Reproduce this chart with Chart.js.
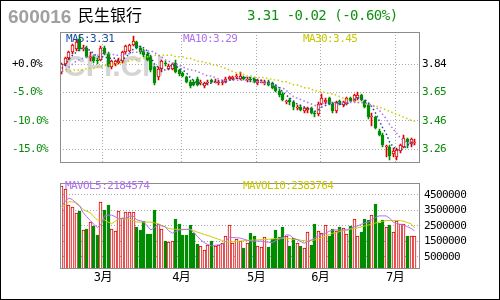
<!DOCTYPE html>
<html>
<head>
<meta charset="utf-8">
<script src="https://cdn.jsdelivr.net/npm/chart.js@4.4.0/dist/chart.umd.min.js"></script>
<style>
body{margin:0;background:#fff;}
#wrap{position:relative;width:500px;height:300px;overflow:hidden;background:#fff;}
#frame{position:absolute;left:0;top:0;width:500px;height:300px;box-sizing:border-box;border:1px solid #000;pointer-events:none;}
canvas{position:absolute;left:0;}
.t{position:absolute;white-space:nowrap;}
.leg{font:11px 'DejaVu Sans Mono',monospace;letter-spacing:-0.6px;line-height:11px;}
</style>
</head>
<body>
<div id="wrap">
<canvas id="priceChart" width="500" height="172" style="top:0"></canvas>
<canvas id="volChart" width="500" height="128" style="top:172px"></canvas>
<div class="t" style="left:8px;top:7px;font:bold 19px 'Liberation Sans',Arial,sans-serif;line-height:19px;color:#a0a0a0">600016</div>
<div class="t" style="left:78px;top:6px;font:16px 'Noto Sans CJK SC',sans-serif;line-height:16px;color:#000">民生银行</div>
<div class="t" style="left:247px;top:8px;font:14px 'DejaVu Sans Mono',monospace;letter-spacing:-0.5px;line-height:14px;color:#109010">3.31 -0.02 (-0.60%)</div>
<div class="t leg" style="left:66px;top:33px;color:#1a4e9c">MA5:3.31</div>
<div class="t leg" style="left:183px;top:33px;color:#b070f0">MA10:3.29</div>
<div class="t leg" style="left:303px;top:33px;color:#c8c800">MA30:3.45</div>
<div class="t leg" style="left:65px;top:180px;color:#b070f0">MAVOL5:2184574</div>
<div class="t leg" style="left:243px;top:180px;color:#c8c800">MAVOL10:2383764</div>
<div id="frame"></div>
</div>
<script>
// daily candles, Feb - Jul
const opens = [3.79,3.84,3.88,3.92,3.94,4.01,3.94,3.95,3.88,3.89,
  3.87,3.87,3.95,3.91,3.82,3.84,3.85,3.86,3.92,3.93,
  3.97,3.99,3.95,3.93,3.91,3.89,3.82,3.75,3.81,3.85,
  3.81,3.81,3.85,3.80,3.78,3.75,3.72,3.72,3.74,3.71,
  3.69,3.71,3.73,3.72,3.71,3.71,3.72,3.74,3.74,3.75,
  3.74,3.75,3.73,3.74,3.74,3.71,3.72,3.71,3.72,3.71,
  3.69,3.66,3.64,3.58,3.60,3.58,3.54,3.55,3.52,3.53,
  3.54,3.51,3.50,3.57,3.58,3.61,3.57,3.52,3.59,3.56,
  3.57,3.61,3.59,3.61,3.63,3.59,3.56,3.48,3.48,3.39,
  3.36,3.28,3.28,3.23,3.21,3.25,3.28,3.33,3.30,3.31];
const highs = [3.85,3.89,3.93,3.98,4.01,4.04,3.97,3.96,3.92,3.90,
  3.88,3.96,3.96,3.92,3.87,3.87,3.88,3.93,3.97,3.98,
  4.03,4.00,3.96,3.94,3.92,3.90,3.83,3.82,3.87,3.86,
  3.84,3.85,3.87,3.81,3.79,3.76,3.73,3.73,3.75,3.73,
  3.72,3.73,3.74,3.74,3.73,3.73,3.75,3.76,3.76,3.77,
  3.79,3.76,3.75,3.75,3.75,3.74,3.73,3.73,3.73,3.72,
  3.70,3.67,3.65,3.60,3.61,3.59,3.56,3.56,3.55,3.55,
  3.55,3.52,3.58,3.64,3.61,3.62,3.58,3.59,3.60,3.59,
  3.62,3.62,3.64,3.65,3.64,3.60,3.57,3.51,3.49,3.40,
  3.37,3.29,3.29,3.27,3.27,3.30,3.36,3.34,3.34,3.33];
const lows = [3.77,3.83,3.87,3.91,3.93,3.93,3.93,3.88,3.86,3.85,
  3.84,3.86,3.90,3.82,3.81,3.83,3.84,3.85,3.91,3.92,
  3.96,3.94,3.91,3.89,3.86,3.79,3.70,3.73,3.79,3.83,
  3.80,3.80,3.78,3.76,3.75,3.71,3.68,3.69,3.69,3.70,
  3.68,3.70,3.71,3.71,3.70,3.70,3.71,3.73,3.73,3.74,
  3.73,3.73,3.72,3.72,3.71,3.70,3.71,3.70,3.69,3.67,
  3.65,3.62,3.59,3.57,3.56,3.53,3.53,3.52,3.51,3.51,
  3.50,3.48,3.49,3.56,3.57,3.56,3.51,3.51,3.56,3.55,
  3.56,3.58,3.58,3.60,3.59,3.54,3.47,3.42,3.40,3.35,
  3.28,3.21,3.19,3.21,3.19,3.24,3.27,3.27,3.28,3.29];
const closes = [3.84,3.88,3.92,3.97,3.99,3.94,3.95,3.89,3.89,3.86,
  3.86,3.95,3.91,3.83,3.86,3.86,3.86,3.92,3.96,3.97,
  4.00,3.95,3.92,3.90,3.87,3.80,3.71,3.81,3.86,3.84,
  3.83,3.84,3.79,3.77,3.76,3.72,3.69,3.70,3.70,3.72,
  3.71,3.72,3.72,3.72,3.72,3.72,3.74,3.75,3.75,3.76,
  3.76,3.74,3.74,3.73,3.72,3.73,3.72,3.72,3.70,3.68,
  3.66,3.63,3.60,3.59,3.58,3.55,3.55,3.53,3.54,3.54,
  3.51,3.50,3.57,3.61,3.60,3.57,3.52,3.58,3.57,3.58,
  3.61,3.59,3.63,3.63,3.60,3.55,3.48,3.49,3.41,3.36,
  3.29,3.28,3.22,3.25,3.26,3.29,3.34,3.31,3.33,3.31];
const ma5 = [3.81,3.84,3.87,3.90,3.92,3.94,3.95,3.95,3.93,3.91,
  3.89,3.89,3.89,3.88,3.88,3.88,3.86,3.87,3.89,3.91,
  3.94,3.96,3.96,3.95,3.93,3.89,3.84,3.82,3.81,3.80,
  3.81,3.84,3.83,3.81,3.80,3.78,3.75,3.73,3.71,3.71,
  3.70,3.71,3.71,3.72,3.72,3.72,3.72,3.73,3.74,3.74,
  3.75,3.75,3.75,3.75,3.74,3.73,3.73,3.72,3.72,3.71,
  3.70,3.68,3.65,3.63,3.61,3.59,3.57,3.56,3.55,3.54,
  3.53,3.52,3.53,3.55,3.56,3.57,3.57,3.58,3.57,3.56,
  3.57,3.59,3.60,3.61,3.61,3.60,3.58,3.55,3.51,3.46,
  3.41,3.37,3.31,3.28,3.26,3.26,3.27,3.29,3.31,3.31];
const ma10 = [3.79,3.80,3.82,3.84,3.86,3.87,3.88,3.89,3.90,3.90,
  3.90,3.91,3.91,3.91,3.91,3.90,3.90,3.90,3.91,3.91,
  3.92,3.92,3.93,3.93,3.93,3.93,3.92,3.90,3.89,3.87,
  3.86,3.85,3.84,3.83,3.82,3.81,3.80,3.80,3.79,3.78,
  3.77,3.76,3.76,3.75,3.74,3.73,3.73,3.73,3.73,3.73,
  3.73,3.73,3.73,3.72,3.72,3.72,3.72,3.71,3.71,3.70,
  3.69,3.68,3.68,3.66,3.64,3.62,3.61,3.60,3.59,3.58,
  3.57,3.56,3.56,3.57,3.58,3.58,3.58,3.58,3.58,3.58,
  3.58,3.58,3.58,3.58,3.58,3.58,3.57,3.56,3.55,3.53,
  3.50,3.47,3.43,3.40,3.37,3.34,3.32,3.31,3.30,3.29];
const ma30 = [3.79,3.79,3.79,3.80,3.80,3.80,3.80,3.81,3.81,3.81,
  3.82,3.82,3.83,3.83,3.84,3.84,3.85,3.85,3.86,3.86,
  3.87,3.87,3.88,3.88,3.89,3.89,3.90,3.90,3.90,3.90,
  3.90,3.90,3.89,3.89,3.89,3.88,3.88,3.87,3.86,3.86,
  3.85,3.85,3.84,3.83,3.83,3.82,3.81,3.80,3.79,3.78,
  3.78,3.77,3.76,3.76,3.75,3.75,3.75,3.75,3.74,3.74,
  3.73,3.73,3.72,3.72,3.71,3.70,3.70,3.69,3.68,3.68,
  3.67,3.66,3.66,3.65,3.65,3.64,3.64,3.63,3.62,3.61,
  3.60,3.59,3.59,3.58,3.58,3.57,3.57,3.56,3.56,3.55,
  3.54,3.53,3.52,3.51,3.50,3.49,3.48,3.47,3.46,3.45];
const volumes = [5050000,4900000,3870000,3700000,3360000,3460000,2230000,2280000,2780000,2480000,
  1930000,4070000,3500000,3870000,2280000,2170000,3460000,3010000,3400000,3380000,
  3400000,2440000,2230000,2850000,1990000,1990000,3500000,2640000,2280000,1560000,
  1480000,1560000,2950000,2640000,1930000,1930000,2580000,2030000,1310000,1210000,
  940000,1250000,1500000,1210000,1250000,1420000,1830000,2540000,1420000,1660000,
  1520000,1070000,1420000,2070000,1870000,1210000,1110000,1760000,1110000,1660000,
  2240000,1780000,2440000,1830000,1210000,1720000,1410000,1210000,1100000,2140000,
  1250000,2650000,2200000,2030000,2550000,1830000,2280000,2200000,2440000,2340000,
  1990000,2480000,2950000,1870000,2140000,2950000,2890000,3210000,3900000,2690000,
  2890000,2440000,2550000,2140000,2810000,2650000,2650000,1870000,1870000,1870000];
const mavol5 = [3770000,4100000,4300000,4200000,3950000,3800000,3360000,3100000,2850000,2600000,
  2400000,2600000,3150000,3200000,3200000,3100000,2950000,3000000,3000000,3100000,
  3150000,2890000,2850000,2750000,2500000,2240000,2400000,2580000,2500000,2440000,
  2200000,2030000,2140000,2240000,2260000,2280000,2280000,2100000,1830000,1600000,
  1420000,1300000,1210000,1250000,1280000,1310000,1500000,1780000,1750000,1740000,
  1720000,1650000,1580000,1520000,1520000,1520000,1520000,1480000,1450000,1420000,
  1550000,1650000,1720000,1930000,1900000,1700000,1620000,1500000,1380000,1500000,
  1600000,1720000,1850000,1950000,2030000,2150000,2240000,2240000,2240000,2240000,
  2240000,2340000,2440000,2500000,2600000,2700000,2750000,2900000,3050000,3150000,
  3150000,3150000,3000000,2750000,2650000,2600000,2550000,2450000,2340000,2180000];
const mavol10 = [3670000,3850000,4070000,4050000,4030000,3800000,3560000,3450000,3360000,3100000,
  2890000,2890000,2890000,2750000,2640000,2800000,2950000,2950000,2950000,2950000,
  2850000,2750000,2750000,2750000,2750000,2750000,2700000,2640000,2550000,2450000,
  2340000,2300000,2280000,2280000,2280000,2280000,2280000,2200000,2100000,2030000,
  1950000,1880000,1800000,1720000,1640000,1560000,1480000,1460000,1480000,1500000,
  1520000,1540000,1560000,1580000,1590000,1600000,1620000,1630000,1640000,1660000,
  1680000,1700000,1720000,1700000,1680000,1620000,1640000,1580000,1550000,1520000,
  1560000,1600000,1660000,1750000,1850000,1950000,2030000,2080000,2140000,2190000,
  2240000,2290000,2340000,2380000,2440000,2500000,2560000,2620000,2690000,2750000,
  2800000,2850000,2850000,2850000,2850000,2850000,2800000,2720000,2640000,2380000];

const monthNames = ['3月', '4月', '5月', '6月', '7月'];
const monthStarts = [12, 34, 55, 73, 94];
const basePrice = 3.84;
const pctTicks = [-15, -10, -5, 0];
const priceMin = 3.167, priceMax = 4.058;
const volTicks = [500000, 1500000, 2500000, 3500000, 4500000];
const volMin = -280000, volMax = 5300000;

const red = '#dd0000', green = '#008c00', gridColor = '#a8a8a8', tickGreen = '#0a8a0a';
const blue = '#1a4e9c', purple = '#b070f0', yellow = '#cccc00';

// one empty slot at the right end, like the original
const slots = opens.map((_, i) => 'd' + i).concat(['']);
const up = closes.map((c, i) => c >= opens[i]);
const bodies = opens.map((o, i) => o === closes[i] ? [o - 0.002, o + 0.002] : [o, closes[i]]);
const wicks = lows.map((l, i) => [l, highs[i]]);
const volBars = volumes.map(v => [volMin, v]);

const tickFont = { family: "'DejaVu Sans Mono', 'Noto Sans CJK SC', monospace", size: 11 };

const tightText = {
  id: 'tightText',
  beforeDraw(chart) { chart.ctx.letterSpacing = '-0.6px'; }
};
// put bar edges on whole pixels so hollow bars stay crisp
const snapBars = {
  id: 'snapBars',
  beforeDatasetsDraw(chart) {
    chart.getSortedVisibleDatasetMetas().forEach(meta => {
      if (meta.type !== 'bar') return;
      meta.data.forEach(el => {
        el.x = Math.floor(el.x) + 0.5;
        el.y = Math.round(el.y);
        el.base = Math.round(el.base);
        if (el.y === el.base) el.base += 1;
      });
    });
  }
};
const plotFrame = {
  id: 'plotFrame',
  afterDraw(chart) {
    const a = chart.chartArea, ctx = chart.ctx;
    ctx.save();
    ctx.strokeStyle = '#8c8c8c';
    ctx.lineWidth = 1;
    ctx.strokeRect(Math.round(a.left) + 0.5, Math.round(a.top) + 0.5, Math.round(a.right - a.left) - 1, Math.round(a.bottom - a.top) - 1);
    ctx.restore();
  }
};
const watermark = {
  id: 'watermark',
  beforeDatasetsDraw(chart) {
    const ctx = chart.ctx;
    ctx.save();
    ctx.letterSpacing = '0px';
    ctx.font = "bold 30px 'Liberation Sans', Arial, sans-serif";
    ctx.fillStyle = '#d4d4d4';
    ctx.fillText('CFi.CN', 64, 76);
    ctx.restore();
  }
};

function monthGrid(c) {
  return monthStarts.includes(c.index) ? gridColor : 'rgba(0,0,0,0)';
}

Chart.defaults.font.family = tickFont.family;
Chart.defaults.font.size = 11;

new Chart(document.getElementById('priceChart'), {
  data: {
    labels: slots,
    datasets: [
      { type: 'line', data: ma5, borderColor: blue, borderWidth: 1.5, borderDash: [1.5, 2.5], pointRadius: 0, order: 0, yAxisID: 'y' },
      { type: 'line', data: ma10, borderColor: purple, borderWidth: 1.5, borderDash: [1.5, 2.5], pointRadius: 0, order: 0, yAxisID: 'y' },
      { type: 'line', data: ma30, borderColor: yellow, borderWidth: 1.5, borderDash: [1.5, 2.5], pointRadius: 0, order: 0, yAxisID: 'y' },
      { type: 'bar', data: bodies, yAxisID: 'y', order: 1, grouped: false, barThickness: 3,
        backgroundColor: up.map(u => u ? '#ffffff' : green),
        borderColor: up.map(u => u ? red : green),
        borderWidth: 1, borderSkipped: false },
      { type: 'bar', data: wicks, yAxisID: 'y', order: 2, grouped: false, barThickness: 1,
        backgroundColor: up.map(u => u ? red : green) }
    ]
  },
  options: {
    responsive: false,
    animation: false,
    layout: { padding: { left: 12, top: 32, right: 0, bottom: 5 } },
    plugins: { legend: { display: false }, tooltip: { enabled: false } },
    scales: {
      x: {
        type: 'category', offset: true,
        grid: { offset: true, drawTicks: false, color: monthGrid },
        border: { display: false, dash: [1, 2] },
        ticks: { display: false, autoSkip: false },
        afterFit: s => { s.height = 0; }
      },
      y: {
        position: 'right', min: priceMin, max: priceMax,
        afterBuildTicks: s => { s.ticks = pctTicks.map(p => ({ value: basePrice * (1 + p / 100) })); },
        ticks: {
          padding: 2, font: tickFont,
          callback: v => v.toFixed(2),
          color: c => Math.abs(c.tick.value - basePrice) < 1e-6 ? '#000' : tickGreen
        },
        grid: { drawTicks: false, color: gridColor },
        border: { display: false, dash: [1, 2] },
        afterFit: s => { s.width = 80; }
      },
      pct: {
        position: 'left',
        min: (priceMin / basePrice - 1) * 100, max: (priceMax / basePrice - 1) * 100,
        afterBuildTicks: s => { s.ticks = pctTicks.map(p => ({ value: p })); },
        ticks: {
          padding: 0, crossAlign: 'far', font: tickFont,
          callback: v => (v >= 0 ? '+' : '') + v.toFixed(1) + '%',
          color: c => c.tick.value === 0 ? '#000' : tickGreen
        },
        grid: { display: false },
        border: { display: false },
        afterFit: s => { s.width = 48; }
      }
    }
  },
  plugins: [tightText, snapBars, watermark, plotFrame]
});

new Chart(document.getElementById('volChart'), {
  data: {
    labels: slots,
    datasets: [
      { type: 'line', data: mavol5, borderColor: purple, borderWidth: 1, pointRadius: 0, order: 0 },
      { type: 'line', data: mavol10, borderColor: yellow, borderWidth: 1, pointRadius: 0, order: 0 },
      { type: 'bar', data: volBars, order: 1, grouped: false, barThickness: 3,
        backgroundColor: up.map(u => u ? '#ffffff' : green),
        borderColor: up.map(u => u ? red : green),
        borderWidth: 1, borderSkipped: false }
    ]
  },
  options: {
    responsive: false,
    animation: false,
    layout: { padding: { left: 60, top: 6, right: 0, bottom: 0 } },
    plugins: { legend: { display: false }, tooltip: { enabled: false } },
    scales: {
      x: {
        type: 'category', offset: true,
        grid: { offset: true, drawTicks: false, color: monthGrid },
        border: { display: false, dash: [1, 2] },
        ticks: {
          autoSkip: false, maxRotation: 0, padding: 2, labelOffset: -1.78,
          color: '#000', font: { family: tickFont.family, size: 12 },
          callback: (v, i) => { const k = monthStarts.indexOf(i); return k >= 0 ? monthNames[k] : null; }
        },
        afterFit: s => { s.height = 31; }
      },
      y: {
        position: 'right', min: volMin, max: volMax,
        afterBuildTicks: s => { s.ticks = volTicks.map(v => ({ value: v })); },
        ticks: { padding: 4, color: '#000', font: tickFont, callback: v => String(v) },
        grid: { drawTicks: false, color: gridColor },
        border: { display: false, dash: [1, 2] },
        afterFit: s => { s.width = 80; }
      }
    }
  },
  plugins: [tightText, snapBars, plotFrame]
});
</script>
</body>
</html>
